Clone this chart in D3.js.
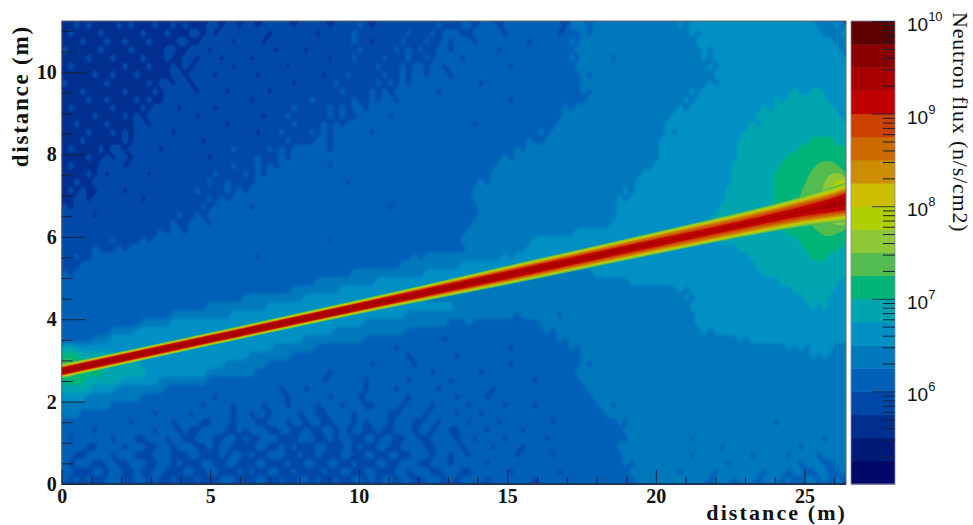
<!DOCTYPE html>
<html><head><meta charset="utf-8">
<script src="https://cdn.jsdelivr.net/npm/d3@7/dist/d3.min.js"></script>
<style>html,body{margin:0;padding:0;background:#fff}svg{display:block}</style></head>
<body><svg id="c" width="973" height="525"></svg>
<script>
// colour levels, bottom of the colour bar to the top (four per decade)
const levelColors=["#00086a","#001a78","#002f8f","#0048a8","#0060b8","#0078bc","#0090c4","#00a5b0","#00b478","#52bc50","#8ec838","#b0cf00","#ccbe00","#cc8e00","#cc6a00","#cc4000","#c00000","#a80000","#8a0000","#5e0000"];
const fluxEdges=[1e5,1.78e5,3.16e5,5.62e5,1e6,1.78e6,3.16e6,5.62e6,1e7,1.78e7,3.16e7,5.62e7,1e8,1.78e8,3.16e8,5.62e8,1e9,1.78e9,3.16e9,5.62e9,1e10];
const xMajor=[0,5,10,15,20,25];
const xMinor=[1,2,3,4,6,7,8,9,11,12,13,14,16,17,18,19,21,22,23,24,26];
const yMajor=[0,2,4,6,8,10];
const yMinor=[0.5,1,1.5,2.5,3,3.5,4.5,5,5.5,6.5,7,7.5,8.5,9,9.5,10.5,11];
const cMajor=[1e6,1e7,1e8,1e9,1e10];
const cMinor=[2e5,3e5,4e5,5e5,6e5,7e5,8e5,9e5,2e6,3e6,4e6,5e6,6e6,7e6,8e6,9e6,2e7,3e7,4e7,5e7,6e7,7e7,8e7,9e7,2e8,3e8,4e8,5e8,6e8,7e8,8e8,9e8,2e9,3e9,4e9,5e9,6e9,7e9,8e9,9e9];
// background flux level: rows top to bottom, 130 columns
const fluxRows=[
"2232322223 2322232232 3222332332 3323333323 3333233334 3233333333 3343334434 4434444444 4443555455 5555555555 5565666666 6666666666 6666655565",
"2322223222 2223222322 2332323333 3333233333 3323333343 3333333433 3434443344 4443444444 4434445455 5555555555 5555656666 6666666666 6666665556",
"2223222322 3222322223 3223333323 3332333333 3333333343 3233334333 4334344434 4444444344 4444545555 5555555555 5555566666 6666666666 6666666655",
"3222223222 2322222332 2333233333 3333323333 2333333334 3333343434 3344344444 4434444444 4444455555 5555555555 5555556566 6666666666 6666666665",
"2222322232 2223222322 3323332333 3233333333 3333233343 3334333433 4344443444 4444444444 4444545555 5455555555 5555556566 6666666666 6666666666",
"2322222222 3222322232 3233333323 3333333233 3333333333 3343334344 3443444444 4444344444 4444455555 5555555555 5555555656 6666666666 6666666666",
"2222232232 2232222233 2333323333 3323333333 3332333433 3334334344 3444344444 4444444444 4444445455 5555555555 5555555566 6666666666 6666666666",
"3222222322 2222323323 3233333333 3333333323 3333343333 3343434344 4444444443 4444444444 4444445555 5555555555 5555555656 6666666666 6666666666",
"2223222222 3222232333 3323333233 3333233333 3333334333 3434344444 4434444444 4444444444 4444445455 5555555555 5555656666 6666666666 6766776666",
"2222322322 2232322333 3333333333 3233333333 3433333343 3434434444 4444444444 4444344444 4444444555 5555555555 5556566666 6666666676 7777777666",
"2322222232 2223233332 3333323333 3333333343 3333434344 3444444444 4444444444 4444444444 4445455555 5555555555 5565666666 6666667677 7777777766",
"2222232222 3232333333 3323333333 3332333433 3333434334 4444344444 4444444444 4444444444 4445555555 5555555555 5666666666 6666677777 7777777776",
"2232222322 2233233333 3333333233 3333333343 3334343444 4444444444 4444444434 4444444444 4455555555 5555555555 6666666666 6666767777 7777777777",
"2222322232 3233333323 3333333333 3323334333 3434344444 4344444444 4444444444 4444444445 4555555555 5555555555 6566666666 6667777777 7777777777",
"2223222222 3233333333 3332333333 3333333433 3344344444 4444444444 4444444444 4444444544 5555555555 5555555556 6666666666 6677777777 7777888877",
"2322223233 2333332333 3333333343 3333434344 4444344444 4444444444 4444444444 4444454555 5555555555 5555555556 6666666666 6677777777 7788888888",
"2222322323 3233333333 3333233333 3343334344 4444444444 4444444444 4444444444 4445455555 5555555555 5555555556 6666666666 6677777777 8888888888",
"2322223333 2333333333 3333333343 3343434444 4444344444 4444444444 4444444444 4455555555 5555555555 5555555566 6666666666 6777777778 8888888888",
"2222323233 3333233333 3333343333 4343444444 4444444444 4444444444 4444444444 4555555555 5555555555 5555556666 6666666666 6777777788 8888888888",
"2232233333 3333333333 3333433433 3344444444 4444444344 4444444444 4444444445 4555555555 5555555555 5555566666 6666666666 6777777788 8888888888",
"2323223333 2333333333 3343333434 3444444444 4444444444 4444444444 4444444455 5555555555 5555555555 5556566666 6666666666 7777777788 8888888888",
"2233233333 3332333333 3333434344 4444444444 4444444444 4444444444 4444444455 5555555555 5555555555 5565666666 6666666666 7777777788 8888888888",
"3233333333 3333333333 3334344444 4344444444 4444444444 4444344444 4444444445 5555555555 5555555555 5566666666 6666666667 7777777788 8888888888",
"3333323333 3333333334 3343444444 4444444444 4444444444 4444444444 4444444445 5555555555 5555555555 5566666666 6666666677 7777777788 8888888888",
"3333333333 3333333343 3444344444 4444444444 4444444444 4444444444 4444444455 5555555555 5555555555 5666666666 6666666777 7777777888 8888888888",
"3333333333 3333334344 3444444444 4444444444 4444444444 4444444444 4444444555 5555555555 5555566666 6666666666 6666666777 7777777777 8888888888",
"3333333343 3334344444 4444444444 4444444444 4444344444 4444444444 4444445555 5555555566 6666666666 6666666666 6666666667 7777777777 7788888888",
"3333343334 3444444444 4444444444 4444444444 4444444444 4444444444 4444444555 5555555666 6666666666 6666666666 6666666666 6677777777 7778888887",
"3343344444 4444444444 4444444444 4434444444 4444444444 4444444454 5555555555 5556566666 6666666666 6666666666 6666666666 6666777777 7777888777",
"3334444444 4444444444 4444444444 4444444444 4444444444 4444445555 5555556666 6666666666 5566666666 6666666666 6666666666 6666677777 7777777777",
"4344444444 4444444444 4444444444 4444444444 4444444455 5555555555 6666666666 6666666665 5555555566 6666666666 6666666666 6666667777 7777777777",
"4444444444 4444444444 4444444444 4444444444 4455555555 5566666666 6666666666 6655555555 5555555555 5555666666 6666666666 6666666667 7777777776",
"4444444444 4444444444 4444444444 4444444455 5555556666 6666666666 6666665555 5555555555 5555555555 5555555555 5565666666 6666666666 6777777766",
"4444444444 4444444444 4444444444 5555555555 6666666666 6666666666 5555555555 5555555555 5555555555 5555555555 5556566666 6666666666 6667777666",
"4444444444 4444444444 4444555555 5555666666 6666666666 6666666666 6666655555 5555555555 5555555555 5555555555 5555666666 6666666666 6666767666",
"4444444444 4444444455 5555555566 6666666666 6666666666 6666666555 5555555555 5555545555 5545555555 5555555555 5555566666 6666666666 6666666666",
"4444444444 4445555566 6666666666 6666666666 6666666666 5555555555 5555444544 4444444445 5555555555 5555555555 5555566666 6666666666 6666666666",
"4444444455 5566666666 6666666666 6666666666 6666655555 5555555444 4444444444 4444444444 5455555555 5555555555 5555556566 6666666666 6666666666",
"4444455566 6666666666 6666666666 6666666666 5555555555 4444444444 4443444444 4444444444 4454555555 5555555555 5555555555 5565666666 6666666666",
"7766666666 6666666666 6666666666 6666655555 5544444444 4444434444 4444444444 4444344444 4444545555 5555555555 5555555555 5555555555 6565666655",
"8887777776 6666666666 6666666666 6555555544 4444444444 4444444344 4444434444 4444444444 4444445555 5555555555 5555555555 5555555555 5555656555",
"9988877777 7776666666 6666666555 5555444444 4444444444 4344444434 4444444444 4444344444 4444445455 5555555555 5555555555 5555555555 5555555555",
"9988888777 7777666666 6666555555 5544444444 4444344444 4444444444 4344444443 4444444444 4444455555 5555555555 5555555555 5555555555 5555555555",
"8888777777 6666665555 5555444444 4444444444 4443444444 3444444344 4444344444 4444444434 4444445555 5555555555 5555555555 5555555555 5555555555",
"7777766665 5555555444 4444444444 4444443444 3444444444 3444434444 4434444444 4344444444 4444444555 5555555555 5555555555 5555555555 5555555555",
"6666555555 5554444444 4444434444 4444444344 4444344443 4444444344 4444434444 3444444444 4444444455 5555555555 5555555555 5555555555 5555555555",
"5555555544 4444444444 4443444434 4443444344 4434443444 3344443444 4344444344 4443444434 4444444445 5455555555 5555555555 5555555555 5555555555",
"5554444444 4444434444 4344444434 4344344443 4433444434 4444334444 3444434443 4444444444 4444444444 5555555555 5555555555 5555555555 5555555555",
"4444444444 4344444434 4443344434 4433444344 3443344434 3444344433 4434444344 4434444444 4344444444 4454555555 5555555555 5555555545 5555555555",
"4444434444 4444434443 4334444334 3444334433 4334434344 3343344434 4344334444 3444443444 4444444444 4445555555 5555555555 5555555555 5555555555",
"4344444434 4433444344 3344433443 4334443334 4433434433 4434433443 3444434434 4443444444 3444444444 4444555555 5555455555 5555555555 5555554555",
"4444334444 3444334434 4433434433 3344334343 3344333434 3344334444 3344443444 4344443444 4444444444 4455555555 5555555554 5555555555 5545555555",
"4433444434 4433344433 3443334344 3433444334 3343334433 4433443344 4344344344 4444434444 4344444444 4445555555 5555455555 5555455555 4555545555",
"4344433443 3444334434 3334433443 3344333433 4433443343 3344334443 3444344444 3444444444 4444444444 4445455555 5555555555 4555555555 5545554455",
"4433344344 3343344333 4433443334 3433443343 3334334433 4433344344 4334443344 4444344444 4434444444 4444555555 5545555545 5555554555 4554455445",
"4343433444 3344343343 3343334443 3344334334 4343343344 3434434433 4443434444 3444444434 4444444444 4444455555 5555555455 5455545554 5445545454"
];
// hot-spot contours around the target: [x (m), y (m)]
const hotLevel9=[[24.84,6.89],[25.04,7.31],[25.21,7.57],[25.45,7.77],[25.79,7.84],[26.12,7.74],[26.4,7.52],[26.6,6.9],[26.4,6.21],[26.12,6.09],[25.75,6.02],[25.38,6.17],[25.08,6.48]];
const hotLevel10=[[25.58,6.89],[25.65,7.26],[25.85,7.5],[26.12,7.55],[26.4,7.43],[26.6,6.9],[26.4,6.31],[26.12,6.29],[25.85,6.38],[25.62,6.6]];
const hotLevel11=[[25.85,6.89],[25.92,7.18],[26.12,7.38],[26.4,7.31],[26.6,6.9],[26.4,6.58],[26.19,6.58],[25.95,6.67]];
// beam: stations along x (m), centre y (m) and half-widths (m) per colour level
const beamX=[0,5,10,15,20,24,25,26,26.4];
const beamCentre=[2.74,3.52,4.30,5.07,5.85,6.47,6.63,6.78,6.85];
const beamLevel9=[.17,.16,.17,.23,.27,.33,.37,.44,.47];
const beamLevel10=[.155,.145,.155,.21,.25,.305,.34,.41,.44];
const beamLevel11=[.14,.13,.14,.19,.23,.28,.31,.38,.41];
const beamLevel12=[.125,.12,.125,.175,.21,.255,.28,.34,.37];
const beamLevel13=[.115,.11,.115,.16,.19,.225,.25,.30,.33];
const beamLevel14=[.105,.10,.105,.14,.16,.19,.215,.26,.29];
const beamLevel15=[.095,.09,.095,.12,.125,.15,.175,.22,.25];
const beamLevel16=[.085,.085,.085,.095,.09,.10,.12,.17,.20];
const beamLevel17=[.06,.06,.055,.05,.03,.02,.03,.07,.11];

const L=61.7,R=846,T=21,B=484,CL=851,CR=895;
const svg=d3.select("#c");
const x=d3.scaleLinear().domain([0,26.4]).range([L,R]);
const y=d3.scaleLinear().domain([0,11.24]).range([B,T]);
const c=d3.scaleLog().domain([1e5,1e10]).range([B,T]);

const defs=svg.append("defs");
defs.append("clipPath").attr("id","plot").append("rect").attr("x",L).attr("y",T).attr("width",R-L).attr("height",B-T);
defs.append("filter").attr("id","soft").attr("x","-2%").attr("y","-2%").attr("width","104%").attr("height","104%").append("feGaussianBlur").attr("stdDeviation",1.8);
defs.append("filter").attr("id","softBeam").attr("x","-2%").attr("y","-5%").attr("width","104%").attr("height","110%").append("feGaussianBlur").attr("stdDeviation",0.6);
const plot=svg.append("g").attr("clip-path","url(#plot)");
plot.append("rect").attr("x",L).attr("y",T).attr("width",R-L).attr("height",B-T).attr("fill",levelColors[2]);

const rows=fluxRows.map(r=>r.replace(/\s/g,""));
const nx=d3.max(rows,r=>r.length),ny=rows.length;
const values=[];
rows.forEach(r=>{for(let i=0;i<nx;i++)values.push(+(r[i]||r[r.length-1])+0.5);});
const thresholds=d3.range(3,10);
const contours=d3.contours().size([nx,ny]).thresholds(thresholds)(values);
const path=d3.geoPath(d3.geoTransform({point(px,py){this.stream.point(x(px*26.4/nx),y(11.24-py*11.24/ny));}}));
plot.append("g").selectAll("path").data(contours).join("path").attr("d",path).attr("fill",d=>levelColors[d.value]);
plot.append("g").attr("filter","url(#soft)").selectAll("path").data(contours).join("path").attr("d",path).attr("fill",d=>levelColors[d.value]);

const closed=d3.line().x(d=>x(d[0])).y(d=>y(d[1])).curve(d3.curveCatmullRomClosed);
const hot=plot.append("g").attr("filter","url(#softBeam)");
[[hotLevel9,9],[hotLevel10,10],[hotLevel11,11]].forEach(([p,l])=>hot.append("path").attr("d",closed(p)).attr("fill",levelColors[l]));

const beamArea=d3.area().x((d,i)=>x(beamX[i])).y0((d,i)=>y(beamCentre[i]-d)).y1((d,i)=>y(beamCentre[i]+d)).curve(d3.curveMonotoneX);
const beam=plot.append("g").attr("filter","url(#softBeam)");
[[beamLevel9,9],[beamLevel10,10],[beamLevel11,11],[beamLevel12,12],[beamLevel13,13],[beamLevel14,14],[beamLevel15,15],[beamLevel16,16],[beamLevel17,17]]
 .forEach(([w,l])=>beam.append("path").attr("d",beamArea(w)).attr("fill",levelColors[l]));

// frame
svg.append("rect").attr("x",L).attr("y",T).attr("width",R-L).attr("height",B-T).attr("fill","none").attr("stroke","#666").attr("stroke-width",1);

const tickInk="#14233f";
function styleAxis(g){g.select(".domain").remove();g.selectAll("line").attr("stroke",tickInk).attr("stroke-width",1);g.selectAll("text").remove();}
const serif='"Liberation Serif",serif';
const fmt=d3.format("d");
// x axis
const gx=svg.append("g").attr("transform",`translate(0,${B})`);
gx.call(d3.axisBottom(x).tickValues(xMajor).tickSize(-14).tickPadding(6).tickFormat(fmt));
gx.select(".domain").remove();
gx.selectAll("line").attr("stroke",tickInk);
gx.selectAll("text").attr("font-family",serif).attr("font-weight","bold").attr("font-size",20).attr("fill","#111").attr("y",19).attr("dy",0);
svg.append("g").attr("transform",`translate(0,${B})`).call(d3.axisBottom(x).tickValues(xMinor).tickSize(-7)).call(styleAxis);
svg.append("line").attr("x1",L).attr("x2",R).attr("y1",B).attr("y2",B).attr("stroke","#1c3558").attr("stroke-width",2);
// y axis
const gy=svg.append("g").attr("transform",`translate(${L},0)`);
gy.call(d3.axisLeft(y).tickValues(yMajor).tickSize(-23).tickPadding(5).tickFormat(fmt));
gy.select(".domain").remove();
gy.selectAll("line").attr("stroke",tickInk);
gy.selectAll("text").attr("font-family",serif).attr("font-weight","bold").attr("font-size",20).attr("fill","#111").attr("text-anchor","end");
svg.append("g").attr("transform",`translate(${L},0)`).call(d3.axisLeft(y).tickValues(yMinor).tickSize(-11)).call(styleAxis);
// titles
svg.append("text").attr("x",847).attr("y",520).attr("text-anchor","end").attr("font-family",serif).attr("font-weight","bold").attr("font-size",22).attr("letter-spacing",2.1).attr("fill","#111").text("distance (m)");
svg.append("text").attr("transform","translate(28,25) rotate(-90)").attr("text-anchor","end").attr("font-family",serif).attr("font-weight","bold").attr("font-size",23).attr("letter-spacing",1.8).attr("fill","#111").text("distance (m)");
// colour bar
svg.selectAll("rect.band").data(levelColors).join("rect").attr("class","band").attr("x",CL).attr("width",CR-CL)
 .attr("y",(d,i)=>c(fluxEdges[i+1])).attr("height",(d,i)=>c(fluxEdges[i])-c(fluxEdges[i+1])+0.5).attr("fill",d=>d);
svg.append("rect").attr("x",CL).attr("y",T).attr("width",CR-CL).attr("height",B-T).attr("fill","none").attr("stroke","#8a8fa0").attr("stroke-width",0.8);
const gc=svg.append("g").attr("transform",`translate(${CR},0)`);
gc.call(d3.axisLeft(c).tickValues(cMajor).tickSize(-0).tickSizeInner(23).tickFormat(()=>""));
gc.select(".domain").remove();
gc.selectAll("text").remove();
gc.selectAll("line").attr("stroke",tickInk).attr("stroke-opacity",0.8);
svg.append("g").attr("transform",`translate(${CR},0)`).call(d3.axisLeft(c).tickValues(cMinor).tickSizeInner(12).tickFormat(()=>"")).call(styleAxis);
const labs=svg.append("g").selectAll("text").data(cMajor).join("text").attr("x",907).attr("y",d=>c(d)+10)
 .attr("font-family",'"Liberation Sans",sans-serif').attr("font-size",19).attr("fill","#111");
labs.append("tspan").text("10");
labs.append("tspan").attr("font-size",13).attr("dy",-10).text(d=>Math.round(Math.log10(d)));
svg.append("text").attr("transform","translate(953,12) rotate(90)").attr("font-family",serif).attr("font-size",22).attr("letter-spacing",0.8).attr("fill","#111").text("Neutron flux (n/s/cm2)");
</script></body></html>
